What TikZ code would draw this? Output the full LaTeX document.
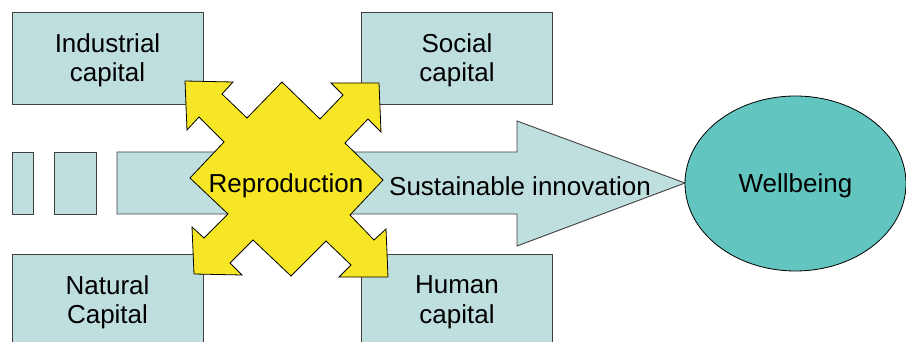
\documentclass[tikz,border=0pt]{standalone}
\usepackage{fontspec}
\setmainfont{Liberation Sans}
\usetikzlibrary{shapes.geometric}
\definecolor{boxfill}{HTML}{BFDFDE}
\definecolor{boxline}{HTML}{404040}
\definecolor{crossfill}{HTML}{F7E625}
\definecolor{ellfill}{HTML}{63C5C0}
\begin{document}
\begin{tikzpicture}[x=1pt,y=-1pt,
  lbl/.style={inner sep=0pt,align=center,font=\fontsize{26}{29.5}\selectfont},
  capbox/.style={draw=boxline,fill=boxfill,line width=0.9pt,minimum width=191pt,minimum height=92pt,inner sep=0pt,label={[lbl,yshift=-2.5pt]center:#1}},
  smallbox/.style={draw=boxline,fill=boxfill,line width=0.9pt,minimum height=62pt,inner sep=0pt}]
\useasboundingbox (0,0) rectangle (906,342);
\clip (0,0) rectangle (906,342);
\node[capbox={Industrial\\capital}] (ind) at (107.5,58) {};
\node[capbox={Social\\capital}] (soc) at (457,58) {};
\node[capbox={Natural\\Capital}] (nat) at (107.5,300) {};
\node[capbox={Human\\capital}] (hum) at (457,300) {};
\node[smallbox,minimum width=21pt] (s1) at (22.5,183) {};
\node[smallbox,minimum width=42pt] (s2) at (75,183) {};
\draw[draw=boxline,fill=boxfill,line width=0.9pt] (117,152) -- (517,152) -- (517,121) -- (685,183) -- (517,246) -- (517,214) -- (117,214) -- cycle;
\node[lbl] (inno) at (520,186) {Sustainable innovation};
\draw[draw=black,fill=crossfill,line width=0.8pt,line join=miter]
 (185,81) -- (233,82) -- (222,94) -- (247,118) -- (282,82) -- (320,119) -- (343,95) -- (331,83) -- (379,83) -- (381,132) -- (368,119) -- (345,143) -- (383,180) -- (350,215) -- (374,240) -- (386,229) -- (388,277) -- (339,277) -- (351,265) -- (326,241) -- (291,276) -- (253,240) -- (230,263) -- (242,275) -- (194,274) -- (192,227) -- (204,238) -- (228,214) -- (190,178) -- (224,142) -- (199,117) -- (187,130) -- cycle;
\node[lbl] (repro) at (286,186) {Reproduction};
\node[ellipse,draw=black,fill=ellfill,line width=0.8pt,minimum width=221pt,minimum height=175pt,inner sep=0pt] (well) at (795.5,183.5) {};
\node[lbl] (wtext) at (well.center) [yshift=-2.5pt] {Wellbeing};
\end{tikzpicture}
\end{document}
